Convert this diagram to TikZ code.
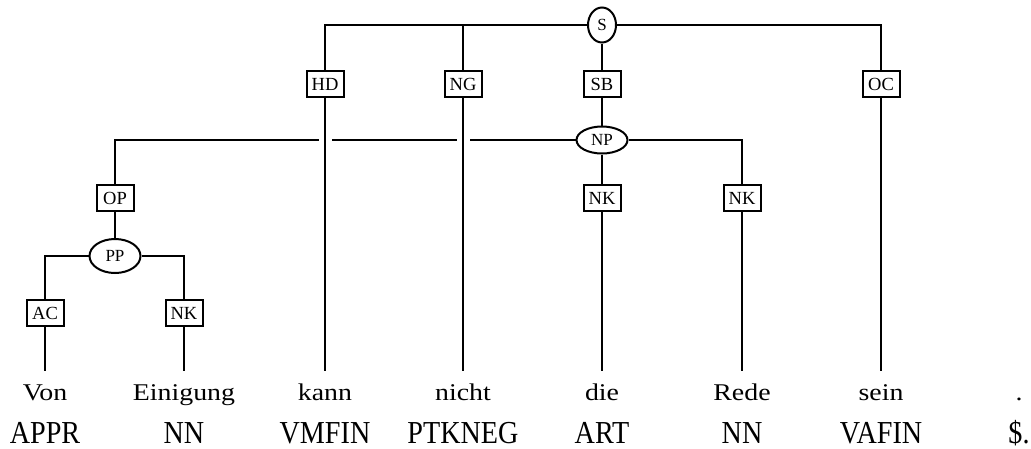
\documentclass[tikz,border=0pt]{standalone}
\usepackage{fontspec}
\setmainfont{Liberation Serif}
\newfontfamily\wordfont[FakeStretch=1.16]{Liberation Serif}
\newfontfamily\tagfont[FakeStretch=0.88]{Liberation Serif}
\usepackage{tikz}
\usetikzlibrary{shapes.geometric}

\tikzset{
  edgelabel/.style={draw, line width=2pt, fill=white, inner sep=0pt,
    minimum width=37pt, minimum height=26pt, font=\fontsize{18.5}{20}\selectfont},
  cat/.style={draw, ellipse, line width=2pt, fill=white, inner sep=0pt,
    font=\fontsize{17}{19}\selectfont},
  word/.style={anchor=base, inner xsep=0pt, inner ysep=12pt, text height=17pt,
    text depth=0pt, font=\wordfont\fontsize{24}{26}\selectfont},
  postag/.style={anchor=base, inner sep=0pt, font=\tagfont\fontsize{32}{34}\selectfont},
  branch/.style={line width=2pt},
  crossing/.style={branch, preaction={draw=white, line width=13pt}}
}

\begin{document}
\begin{tikzpicture}[x=1pt, y=-1pt]
  \useasboundingbox (0,0) rectangle (1031,448);
  % terminals and part-of-speech tags
  \foreach \i/\x/\w/\p in {1/45/Von/APPR, 2/184/Einigung/NN, 3/325/kann/VMFIN,
    4/463/nicht/PTKNEG, 5/602/die/ART, 6/742/Rede/NN, 7/881/sein/VAFIN, 8/1019/./\$.}{
    \node[word] (w\i) at (\x,400) {\w};
    \node[postag] (p\i) at (\x,443) {\p};
  }
  % phrase nodes
  \node[cat, minimum width=28pt, minimum height=35pt] (S) at (602,25) {S};
  \node[cat, minimum width=51pt, minimum height=27pt] (NP) at (602,140) {NP};
  \node[cat, minimum width=51pt, minimum height=34pt] (PP) at (115,256) {PP};
  % edge labels
  \node[edgelabel] (HD) at (325,84) {HD};
  \node[edgelabel] (NG) at (463,84) {NG};
  \node[edgelabel] (SB) at (602,84) {SB};
  \node[edgelabel] (OC) at (881,84) {OC};
  \node[edgelabel] (OP) at (115,198) {OP};
  \node[edgelabel] (NKa) at (602,198) {NK};
  \node[edgelabel] (NKb) at (742,198) {NK};
  \node[edgelabel] (AC) at (45,313) {AC};
  \node[edgelabel] (NKc) at (184,313) {NK};
  % S
  \draw[branch] (S.west) -| (HD.north);
  \draw[branch] (S.east) -| (OC.north);
  \draw[branch] (NG.north) -- (NG.north |- S.west);
  \draw[branch] (S.south) -- (SB.north);
  \draw[branch] (SB.south) -- (NP.north);
  \draw[branch] (OC.south) -- (w7.north);
  % NP
  \draw[branch] (NP.west) -| (OP.north);
  \draw[branch] (NP.east) -| (NKb.north);
  \draw[branch] (NP.south) -- (NKa.north);
  \draw[branch] (NKa.south) -- (w5.north);
  \draw[branch] (NKb.south) -- (w6.north);
  % PP
  \draw[branch] (OP.south) -- (PP.north);
  \draw[branch] (PP.west) -| (AC.north);
  \draw[branch] (PP.east) -| (NKc.north);
  \draw[branch] (AC.south) -- (w1.north);
  \draw[branch] (NKc.south) -- (w2.north);
  % crossing branches
  \draw[crossing] (HD.south) -- (w3.north);
  \draw[crossing] (NG.south) -- (w4.north);
\end{tikzpicture}
\end{document}
